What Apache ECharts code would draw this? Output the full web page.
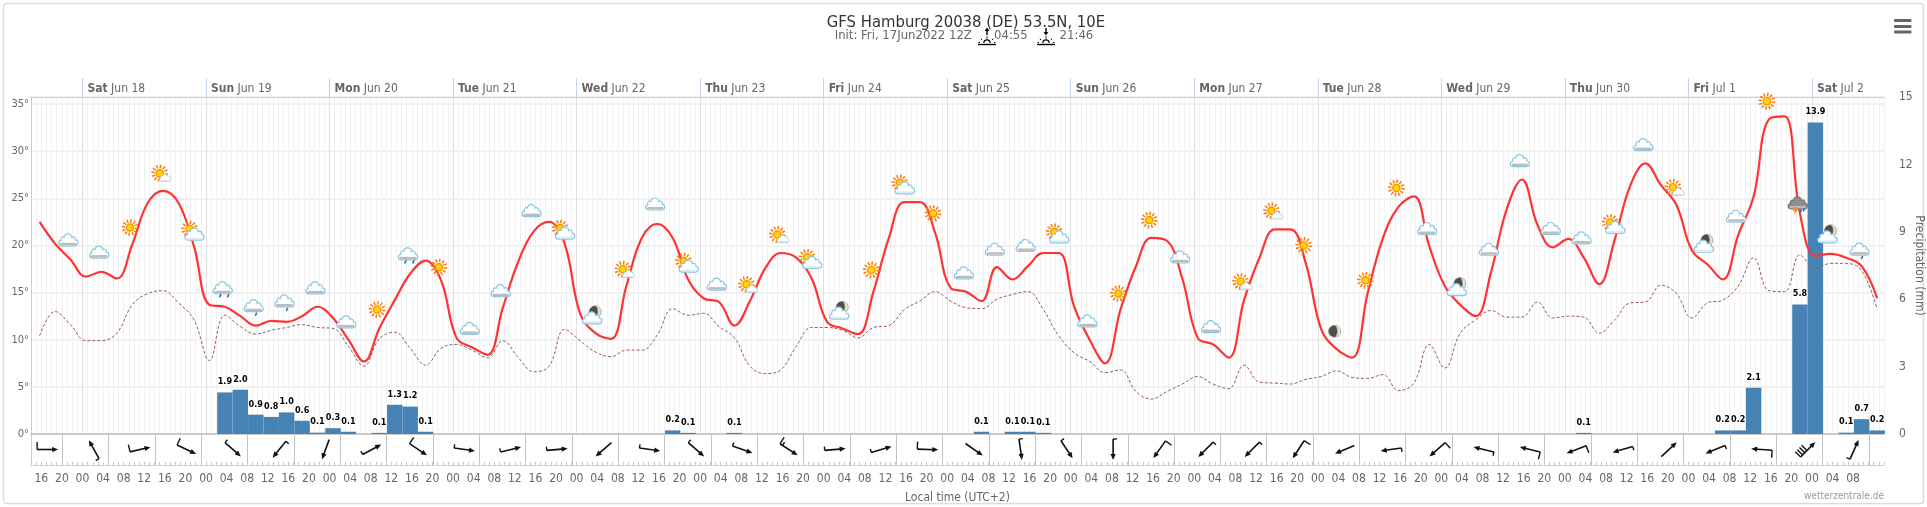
<!DOCTYPE html>
<html>
<head>
<meta charset="utf-8">
<title>GFS Hamburg</title>
<script src="https://cdn.jsdelivr.net/npm/echarts@6/dist/echarts.min.js"></script>
<style>
html, body { margin: 0; padding: 0; background: #fff; }
#chart { width: 1927px; height: 507px; }
</style>
</head>
<body>
<div id="chart"></div>
<script>
// hours are counted from Sat Jun 18 00:00 local time
var firstHour = -8.33;
var stepHours = 3;

var dayLabels = [
  ['Sat', 'Jun 18'], ['Sun', 'Jun 19'], ['Mon', 'Jun 20'], ['Tue', 'Jun 21'], ['Wed', 'Jun 22'],
  ['Thu', 'Jun 23'], ['Fri', 'Jun 24'], ['Sat', 'Jun 25'], ['Sun', 'Jun 26'], ['Mon', 'Jun 27'],
  ['Tue', 'Jun 28'], ['Wed', 'Jun 29'], ['Thu', 'Jun 30'], ['Fri', 'Jul 1'], ['Sat', 'Jul 2']
];

var tempValues = [
  22.5, 20.2, 18.5, 16.7, 17.2, 16.5, 20.1, 24.5, 25.8, 24.5,
  19.9, 13.7, 13.5, 12.5, 11.5, 12.0, 11.9, 12.5, 13.5, 12.3,
  10.0, 7.7, 11.2, 14.2, 17.0, 18.4, 16.3, 10.2, 9.2, 8.4,
  13.4, 18.3, 21.5, 22.5, 20.2, 12.8, 10.7, 10.1, 15.7, 20.8,
  22.3, 20.8, 16.4, 14.4, 14.0, 11.5, 14.1, 17.6, 19.2, 18.7,
  16.5, 11.9, 11.2, 10.6, 15.1, 20.8, 24.6, 24.6, 21.3, 15.5,
  15.1, 14.1, 17.7, 16.4, 17.8, 19.2, 19.2, 13.5, 10.0, 7.5,
  13.2, 17.8, 20.8, 20.5, 16.5, 10.2, 9.5, 8.1, 14.2, 18.7,
  21.7, 21.7, 18.1, 11.1, 9.0, 8.1, 14.9, 20.8, 24.1, 25.2,
  19.9, 15.7, 13.7, 12.5, 17.2, 23.8, 27.0, 22.2, 19.8, 20.7,
  18.7, 15.9, 20.6, 26.3, 28.7, 26.4, 24.3, 19.5, 18.0, 16.4,
  21.1, 25.2, 33.4, 33.7, 23.4, 18.9, 19.1, 18.7, 17.8, 14.4
];

var dewValues = [
  10.4, 13.0, 11.6, 9.9, 9.9, 10.7, 13.7, 14.9, 15.2, 13.9,
  12.1, 7.8, 12.6, 11.4, 10.6, 11.0, 11.3, 11.6, 11.3, 11.2,
  9.3, 7.2, 10.1, 10.8, 9.1, 7.3, 9.1, 9.5, 8.9, 8.1,
  9.9, 8.1, 6.6, 7.2, 11.1, 9.9, 8.7, 8.2, 8.9, 8.9,
  10.5, 13.3, 12.6, 12.8, 11.4, 10.2, 7.2, 6.4, 6.8, 9.3,
  11.3, 11.3, 11.0, 10.2, 11.3, 11.5, 13.2, 14.1, 15.1, 14.1,
  13.4, 13.3, 14.3, 14.8, 15.1, 13.2, 10.4, 8.6, 7.7, 6.5,
  6.8, 4.5, 3.7, 4.5, 5.3, 6.1, 5.3, 4.8, 7.3, 5.5,
  5.4, 5.3, 5.8, 6.1, 6.7, 6.0, 5.9, 6.3, 4.6, 5.4,
  9.5, 7.0, 10.7, 12.1, 13.1, 12.4, 12.4, 14.0, 12.3, 12.5,
  12.4, 10.7, 12.1, 13.9, 14.0, 15.8, 14.9, 12.3, 13.9, 14.2,
  15.7, 18.7, 15.2, 15.1, 19.0, 17.6, 18.1, 18.1, 17.3, 13.2
];

var precipValues = [
  0, 0, 0, 0, 0, 0, 0, 0, 0, 0,
  0, 0, 1.85, 1.97, 0.86, 0.76, 0.96, 0.59, 0.06, 0.26,
  0.1, 0, 0.05, 1.3, 1.22, 0.1, 0, 0, 0, 0,
  0, 0, 0, 0, 0, 0, 0, 0, 0, 0,
  0, 0.16, 0.05, 0, 0, 0.05, 0, 0, 0, 0,
  0, 0, 0, 0, 0, 0, 0, 0, 0, 0,
  0, 0.1, 0, 0.1, 0.1, 0.05, 0, 0, 0, 0,
  0, 0, 0, 0, 0, 0, 0, 0, 0, 0,
  0, 0, 0, 0, 0, 0, 0, 0, 0, 0,
  0, 0, 0, 0, 0, 0, 0, 0, 0, 0,
  0.05, 0, 0, 0, 0, 0, 0, 0, 0, 0.16,
  0.16, 2.06, 0, 0, 5.76, 13.86, 0, 0.06, 0.66, 0.16
];

// wind barbs, every 9 hours: heading of the arrow in degrees, feathers in half units
var windFirstHour = -6.77;
var windHeadings = [
  90, 331, 77, 115, 131, 219, 200, 62, 124, 98,
  76, 85, 229, 98, 131, 109, 123, 85, 73, 92,
  125, 172, 146, 180, 215, 225, 225, 213, 247, 262,
  229, 284, 284, 249, 254, 47, 248, 274, 44, 24
];
var windFeathers = [
  2, 1, 2, 2, 1, 1, 0, 1, 2, 1,
  1, 1, 0, 1, 1, 1, 3, 1, 1, 2,
  0, 1, 1, 1, 2, 1, 1, 2, 0, 1,
  2, 1, 2, 2, 1, 0, 1, 2, 8, 1
];

// weather icons, every 6 hours, drawn at a height on the temperature scale
var iconFirstHour = -2.75;
var iconKinds = [
  'c', 'c', 's', 'sc', 'SC', 'r2', 'r1', 'r1', 'c', 'c',
  's', 'r2', 's', 'c', 'c', 'c', 'SC', 'mc', 'sc', 'c',
  'SC', 'c', 'sc', 'sc', 'SC', 'mc', 's', 'SC', 's', 'c',
  'c', 'c', 'SC', 'c', 's', 's', 'c', 'c', 'sc', 'sc',
  's', 'm', 's', 's', 'c', 'mc', 'c', 'c', 'c', 'c',
  'SC', 'c', 'sc', 'mc', 'c', 's', 'th', 'mc', 'r1'
];
var iconTemps = [
  20.6, 19.3, 21.9, 27.6, 21.5, 15.3, 13.4, 13.9, 15.5, 11.9,
  13.2, 18.9, 17.7, 11.2, 15.2, 23.7, 21.6, 12.5, 17.4, 24.4,
  18.1, 15.9, 15.8, 21.1, 18.5, 13.0, 17.4, 26.4, 23.4, 17.1,
  19.6, 20.0, 21.2, 12.0, 14.9, 22.7, 18.8, 11.4, 16.1, 23.6,
  20.0, 10.9, 16.3, 26.1, 21.8, 15.5, 19.6, 29.0, 21.8, 20.8,
  22.2, 30.7, 26.1, 20.1, 23.1, 35.3, 24.3, 21.1, 19.4
];

var FONT = '"DejaVu Sans Condensed", "DejaVu Sans", sans-serif';

var pointHours = tempValues.map(function (v, i) { return firstHour + stepHours * i; });
var tempData = tempValues.map(function (v, i) { return [pointHours[i], v]; });
var dewData = dewValues.map(function (v, i) { return [pointHours[i], v]; });
var precipData = [];
precipValues.forEach(function (v, i) { if (v > 0) precipData.push([pointHours[i], v]); });
var windData = windHeadings.map(function (v, i) { return [windFirstHour + 9 * i, 0.5]; });
var iconData = iconTemps.map(function (v, i) { return [iconFirstHour + 6 * i, v]; });

var dayTicks = dayLabels.map(function (d, i) { return 24 * i; });
var timeTicks = [];
for (var h = -8; h <= 344; h += 4) timeTicks.push(h);
var windLines = [];
for (var w = -3.92; w < 350; w += 9) windLines.push(w);

var CLOUD = 'M-6.5 6 H6.5 C10 6 10.5 1 7 .5 C7.5 -2 4.5 -3 3.5 -1.8 C3 -6 -3.5 -6.5 -4 -2 C-6.5 -3 -8 -.5 -7 1 C-10.5 1.5 -10 6 -6.5 6 Z';

function cloud(cx, cy, s, gray, fill, stroke) {
  var kids = [{
    type: 'path',
    shape: { pathData: CLOUD, x: -9.6, y: -6, width: 19.2, height: 12, layout: 'cover' },
    style: { fill: fill || '#fff', stroke: stroke || '#8cc6e2', lineWidth: 1.2 }
  }];
  if (gray) {
    kids.push({ type: 'rect', shape: { x: -8, y: 3, width: 16, height: 2.4 }, style: { fill: '#bcbcbc' } });
  } else {
    kids.push({ type: 'rect', shape: { x: -8, y: 3.6, width: 16, height: 1.6 }, style: { fill: '#d8ecf6' } });
  }
  return { type: 'group', x: cx, y: cy, scaleX: s, scaleY: s, children: kids };
}

function sun(cx, cy) {
  var kids = [];
  for (var a = 0; a < 12; a++) {
    var t = a * Math.PI / 6 + 0.13;
    kids.push({
      type: 'line',
      shape: { x1: cx + 5 * Math.cos(t), y1: cy + 5 * Math.sin(t), x2: cx + 8.4 * Math.cos(t), y2: cy + 8.4 * Math.sin(t) },
      style: { stroke: '#ff7a00', lineWidth: 1.5 }
    });
  }
  kids.push({ type: 'circle', shape: { cx: cx, cy: cy, r: 3.6 }, style: { fill: '#ffd800', stroke: '#ff8c00', lineWidth: 1.3 } });
  return { type: 'group', children: kids };
}

function moon(cx, cy) {
  return {
    type: 'group', x: cx, y: cy, children: [
      { type: 'circle', shape: { cx: 0, cy: 0, r: 6 }, style: { fill: '#4d4d4d', stroke: '#999', lineWidth: 0.6 } },
      {
        type: 'path',
        shape: { pathData: 'M1 -6 A6 6 0 0 1 1 6 A9 9 0 0 0 1 -6 Z', x: 1, y: -6, width: 5, height: 12, layout: 'cover' },
        style: { fill: '#e9e3c2', stroke: '#aaa', lineWidth: 0.5 }
      }
    ]
  };
}

function drop(cx, cy) {
  return { type: 'line', shape: { x1: cx + 0.8, y1: cy - 1.6, x2: cx - 0.6, y2: cy + 1.6 }, style: { stroke: '#1a6fb5', lineWidth: 1.5 } };
}

function renderIcon(params, api) {
  var pos = api.coord([api.value(0), api.value(1)]);
  var x = pos[0], y = pos[1], kids = [];
  switch (iconKinds[params.dataIndex]) {
    case 'c': kids = [cloud(x, y, 1, true)]; break;
    case 's': kids = [sun(x, y)]; break;
    case 'sc': kids = [sun(x - 1.3, y - 0.7), cloud(x + 4.3, y + 3.7, 0.62, false)]; break;
    case 'SC': kids = [sun(x - 2.3, y - 2.3), cloud(x + 2.7, y + 2.7, 1, false)]; break;
    case 'r1': kids = [cloud(x, y - 2, 1, true), drop(x + 2.3, y + 6.5)]; break;
    case 'r2': kids = [cloud(x, y - 2, 1, true), drop(x - 2.7, y + 6), drop(x + 5.3, y + 6)]; break;
    case 'm': kids = [moon(x, y)]; break;
    case 'mc': kids = [moon(x + 1.7, y - 4.3), cloud(x - 1.3, y + 1.7, 1, false)]; break;
    case 'th':
      kids = [
        cloud(x, y - 2, 1, true, '#8f8f8f', '#777'),
        { type: 'polygon', shape: { points: [[x - 4, y + 2], [x - 1, y + 2], [x - 2, y + 5], [x, y + 5], [x - 4, y + 10], [x - 3, y + 6], [x - 5, y + 6]] }, style: { fill: '#ff8c00' } },
        drop(x + 3, y + 6), drop(x + 6, y + 5)
      ];
      break;
  }
  return { type: 'group', children: kids };
}

function renderWind(params, api) {
  var c = api.coord([api.value(0), api.value(1)]);
  var rad = windHeadings[params.dataIndex] * Math.PI / 180;
  var ux = Math.sin(rad), uy = -Math.cos(rad);
  var nx = uy, ny = -ux;
  var len = 21;
  var tx = c[0] - ux * len / 2, ty = c[1] - uy * len / 2;
  var hx = c[0] + ux * len / 2, hy = c[1] + uy * len / 2;
  var kids = [
    { type: 'line', shape: { x1: tx, y1: ty, x2: hx - ux * 3, y2: hy - uy * 3 }, style: { stroke: '#111', lineWidth: 1.6 } },
    {
      type: 'polygon',
      shape: { points: [[hx, hy], [hx - ux * 6 + nx * 2.6, hy - uy * 6 + ny * 2.6], [hx - ux * 6 - nx * 2.6, hy - uy * 6 - ny * 2.6]] },
      style: { fill: '#111' }
    }
  ];
  var units = windFeathers[params.dataIndex], k = 0;
  while (units > 0) {
    var fl = units >= 2 ? 7.5 : 3.8;
    var bx = tx + ux * 3 * k, by = ty + uy * 3 * k;
    kids.push({ type: 'line', shape: { x1: bx, y1: by, x2: bx + nx * fl, y2: by + ny * fl }, style: { stroke: '#111', lineWidth: 1.4 } });
    units -= 2;
    k++;
  }
  return { type: 'group', children: kids };
}

// the little sun with an arrow next to the sunrise and sunset times
function sunMark(cx, up) {
  var base = 44.5, kids = [
    { type: 'line', shape: { x1: cx - 9, y1: base, x2: cx + 9, y2: base }, style: { stroke: '#000', lineWidth: 1.4 } },
    { type: 'arc', shape: { cx: cx, cy: base - 1.5, r: 3.2, startAngle: Math.PI, endAngle: 0 }, style: { stroke: '#000', fill: null, lineWidth: 1.2 } },
    { type: 'line', shape: { x1: cx, y1: up ? 29 : 28, x2: cx, y2: up ? 35 : 33 }, style: { stroke: '#000', lineWidth: 1.4 } },
    { type: 'polygon', shape: { points: up ? [[cx, 27.5], [cx - 2.4, 31], [cx + 2.4, 31]] : [[cx, 35.5], [cx - 2.4, 32], [cx + 2.4, 32]] }, style: { fill: '#000' } }
  ];
  [[-7, 0], [-5, -4], [0, -6.5], [5, -4], [7, 0]].forEach(function (r) {
    kids.push({ type: 'line', shape: { x1: cx + r[0], y1: base - 2 + r[1] * 0.6, x2: cx + r[0] * 1.2, y2: base - 2 + r[1] * 0.95 }, style: { stroke: '#000', lineWidth: 1 } });
  });
  return { type: 'group', children: kids };
}

function subText(x, text) {
  return { type: 'text', x: x, y: 36, style: { text: text, fill: '#666', font: '13px ' + FONT, textVerticalAlign: 'middle' } };
}

var option = {
  animation: false,
  backgroundColor: '#fff',
  textStyle: { fontFamily: FONT },
  title: {
    text: 'GFS Hamburg 20038 (DE) 53.5N, 10E',
    left: 961, top: 9, textAlign: 'center',
    textStyle: { fontFamily: FONT, fontSize: 16.5, fontWeight: 'normal', color: '#333' }
  },
  graphic: [
    { type: 'rect', shape: { x: 3.5, y: 3.5, width: 1920, height: 500, r: 3 }, style: { fill: null, stroke: '#ddd', lineWidth: 1.5 }, silent: true },
    { type: 'rect', shape: { x: 1894, y: 19, width: 17.5, height: 3, r: 1 }, style: { fill: '#666' } },
    { type: 'rect', shape: { x: 1894, y: 25, width: 17.5, height: 3, r: 1 }, style: { fill: '#666' } },
    { type: 'rect', shape: { x: 1894, y: 30.5, width: 17.5, height: 3, r: 1 }, style: { fill: '#666' } },
    subText(834.7, 'Init: Fri, 17Jun2022 12Z'),
    subText(994, '04:55'),
    subText(1059.6, '21:46'),
    sunMark(987, true),
    sunMark(1046, false),
    {
      type: 'text', right: 43, top: 491,
      style: { text: 'wetterzentrale.de', fill: '#999', font: '10px ' + FONT }
    }
  ],
  grid: [
    { left: 31, width: 1853, top: 97, height: 337, outerBoundsMode: 'none' },
    { left: 31, width: 1853, top: 434, height: 31, outerBoundsMode: 'none' }
  ],
  xAxis: [
    {
      gridIndex: 0, type: 'value', min: -10, max: 350, interval: 1, position: 'bottom',
      axisLine: { onZero: false, lineStyle: { color: '#bdbdbd', width: 1.5 } },
      axisTick: { show: false }, axisLabel: { show: false },
      splitLine: { show: true, lineStyle: { color: '#f1f1f1', width: 1 } }
    },
    {
      gridIndex: 0, type: 'value', min: -10, max: 350, position: 'top',
      axisLine: { onZero: false, lineStyle: { color: '#c6d3e6', width: 1.2 } },
      axisTick: { show: true, customValues: dayTicks, length: 19, lineStyle: { color: '#c6d3e6', width: 1 } },
      axisLabel: {
        show: true, customValues: dayTicks, margin: 2, align: 'left', padding: [0, 0, 0, 5],
        color: '#666', fontSize: 12,
        formatter: function (v) {
          var d = dayLabels[Math.round(v / 24)];
          return '{b|' + d[0] + '} ' + d[1];
        },
        rich: { b: { fontWeight: 'bold', color: '#666', fontSize: 12 } }
      },
      splitLine: { show: true, lineStyle: { color: '#e0e0e0', width: 1 } }
    },
    {
      gridIndex: 1, type: 'value', min: -10, max: 350, interval: 1, position: 'bottom',
      axisLine: { onZero: false, lineStyle: { color: '#c6d3e6', width: 1.2 } },
      axisTick: { show: true, inside: true, length: 3, lineStyle: { color: '#c0c8d4', width: 1 } },
      axisLabel: {
        show: true, customValues: timeTicks, color: '#666', fontSize: 12, margin: 8,
        formatter: function (v) {
          var hh = ((v % 24) + 24) % 24;
          return (hh < 10 ? '0' : '') + hh;
        }
      },
      splitLine: { show: false },
      name: 'Local time (UTC+2)', nameLocation: 'middle', nameGap: 27, nameMoveOverlap: false,
      nameTextStyle: { color: '#666', fontSize: 12 }
    },
    {
      gridIndex: 1, type: 'value', min: -10, max: 350, position: 'top',
      axisLine: { show: false },
      axisTick: { show: false, customValues: windLines },
      axisLabel: { show: false },
      splitLine: { show: true, lineStyle: { color: '#c4c4c4', width: 1 } }
    }
  ],
  yAxis: [
    {
      gridIndex: 0, type: 'value', min: 0, max: 35.75, interval: 5, position: 'left',
      axisLine: { show: true, onZero: false, lineStyle: { color: '#ccc' } },
      axisTick: { show: false },
      axisLabel: { formatter: '{value}°', color: '#666', fontSize: 11, margin: 2, showMaxLabel: false },
      splitLine: { show: true, lineStyle: { color: '#ececec', width: 1.5 } }
    },
    {
      gridIndex: 0, type: 'value', min: 0, max: 15, interval: 3, position: 'right',
      axisLine: { show: false }, axisTick: { show: false },
      axisLabel: { color: '#666', fontSize: 12, margin: 15 },
      splitLine: { show: false },
      name: 'Precipitation (mm)', nameLocation: 'middle', nameRotate: -90, nameGap: 29, nameMoveOverlap: false,
      nameTextStyle: { color: '#666', fontSize: 12 }
    },
    {
      gridIndex: 1, type: 'value', min: 0, max: 1, interval: 1, position: 'left',
      axisLine: { show: true, onZero: false, lineStyle: { color: '#ccc' } },
      axisTick: { show: false }, axisLabel: { show: false }, splitLine: { show: false }
    }
  ],
  series: [
    {
      name: 'Precipitation', type: 'bar', xAxisIndex: 0, yAxisIndex: 1, z: 2,
      barWidth: 15.43, data: precipData,
      itemStyle: { color: '#4682b4' },
      label: {
        show: true, position: 'top', distance: 6, color: '#000', fontSize: 9, fontWeight: 'bold',
        textBorderColor: '#fff', textBorderWidth: 2,
        formatter: function (p) { return p.value[1].toFixed(1); }
      }
    },
    {
      name: 'Dew point', type: 'line', xAxisIndex: 0, yAxisIndex: 0, z: 3,
      data: dewData, smooth: 0.4, showSymbol: false,
      lineStyle: { color: '#9a5a5a', width: 1, type: [3, 2] }
    },
    {
      name: 'Temperature', type: 'line', xAxisIndex: 0, yAxisIndex: 0, z: 3,
      data: tempData, smooth: 0.4, showSymbol: false,
      lineStyle: { color: '#ff3333', width: 2.2 }
    },
    {
      name: 'Weather', type: 'custom', xAxisIndex: 0, yAxisIndex: 0, z: 4, clip: false,
      data: iconData, renderItem: renderIcon, encode: { x: 0, y: 1 }
    },
    {
      name: 'Wind', type: 'custom', xAxisIndex: 2, yAxisIndex: 2, z: 4, clip: false,
      data: windData, renderItem: renderWind, encode: { x: 0, y: 1 }
    }
  ]
};

var myChart = echarts.init(document.getElementById('chart'));
myChart.setOption(option);
</script>
</body>
</html>
